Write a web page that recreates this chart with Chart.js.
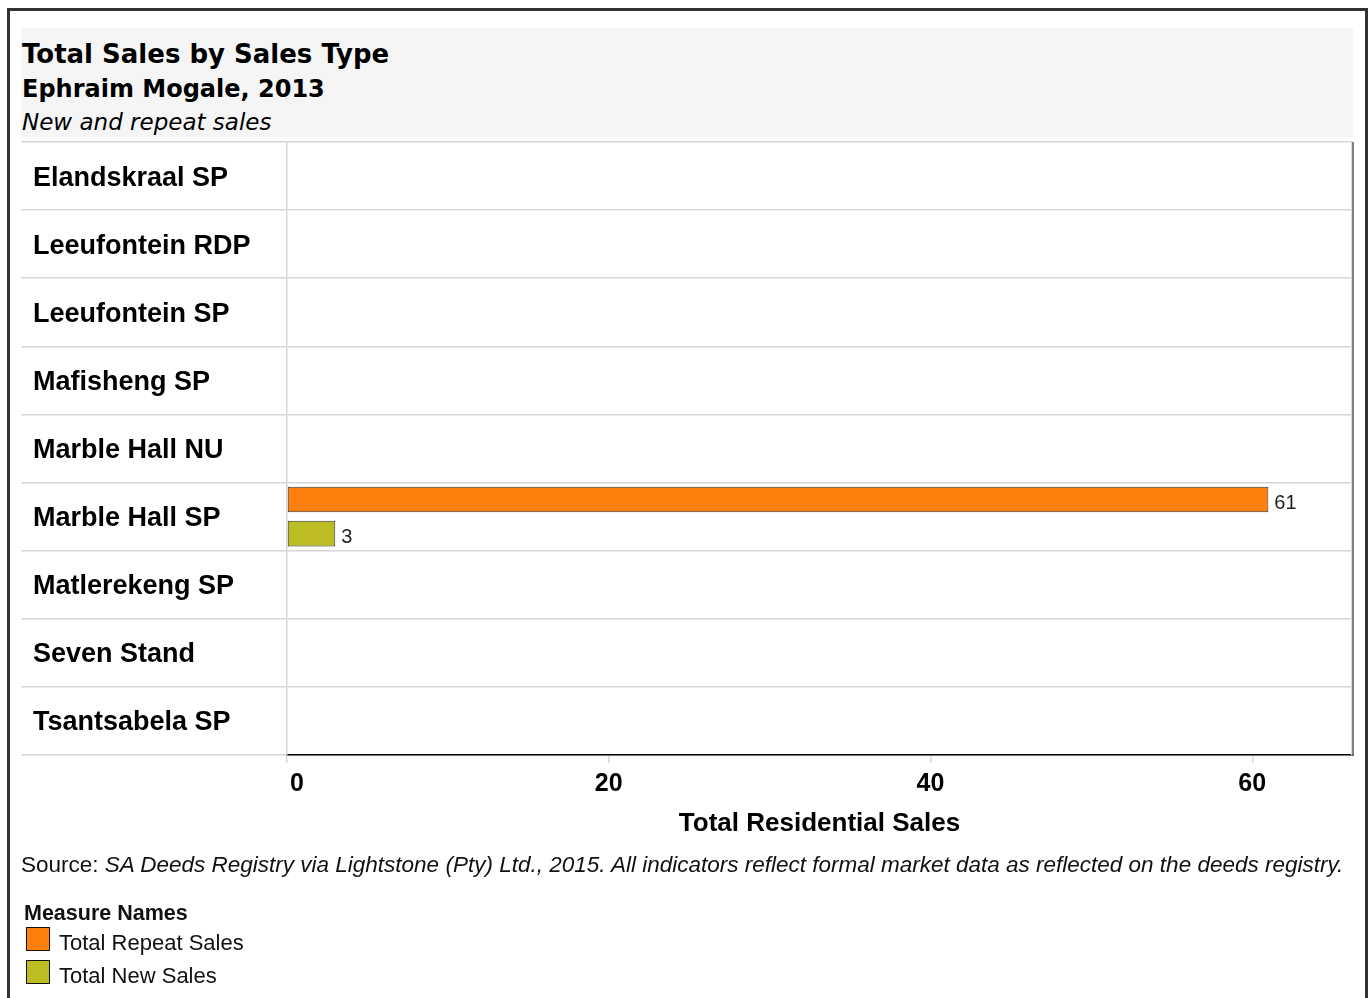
<!DOCTYPE html>
<html>
<head>
<meta charset="utf-8">
<title>Total Sales by Sales Type</title>
<script src="https://cdn.jsdelivr.net/npm/chart.js@4"></script>
<style>
body{margin:0;width:1370px;height:998px;overflow:hidden;background:#fff;position:relative;font-family:"Liberation Sans",Arial,sans-serif;color:#111}
#frame{position:absolute;left:7px;top:8px;width:1361px;height:1100px;border:3px solid #333;box-sizing:border-box}
#head{position:absolute;left:21px;top:28px;width:1332px;height:109px;background:#f5f5f5}
.h{position:absolute;left:22px;font-family:"DejaVu Sans",sans-serif;line-height:1;white-space:nowrap;color:#000}
#t1{top:41px;font-size:26px;font-weight:bold}
#t2{top:77px;font-size:24px;font-weight:bold}
#t3{top:111px;font-size:23px;font-style:italic}
#chart{position:absolute;left:0;top:0}
#source{position:absolute;left:21px;top:852px;font-size:22.5px;line-height:26px;white-space:nowrap;color:#111}
#legend{position:absolute;left:24px;top:901px}
#legend .lt{font-weight:bold;font-size:21.5px;line-height:24px;margin-bottom:-3px}
#legend .it{display:flex;align-items:center;height:33px;margin-left:2px}
#legend .sw{width:22px;height:22px;border:1px solid #111;margin-right:9px}
#legend .tx{font-size:22px;padding-top:8px}
</style>
</head>
<body>
<div id="frame"></div>
<div id="head"></div>
<div class="h" id="t1">Total Sales by Sales Type</div>
<div class="h" id="t2">Ephraim Mogale, 2013</div>
<div class="h" id="t3">New and repeat sales</div>
<canvas id="chart" width="1370" height="998"></canvas>
<div id="source">Source: <i>SA Deeds Registry via Lightstone (Pty) Ltd., 2015. All indicators reflect formal market data as reflected on the deeds registry.</i></div>
<div id="legend"><div class="lt">Measure Names</div></div>
<script>
// suburbs, top to bottom
const categories = ["Elandskraal SP","Leeufontein RDP","Leeufontein SP","Mafisheng SP","Marble Hall NU","Marble Hall SP","Matlerekeng SP","Seven Stand","Tsantsabela SP"];
const repeatSales = [null,null,null,null,null,61,null,null,null];
const newSales    = [null,null,null,null,null,3,null,null,null];
const seriesNames = ["Total Repeat Sales","Total New Sales"];
const seriesColors = ["#FF7F0E","#BCBD22"];
const xTicks = [0,20,40,60];
const xMax = 66.2;

const gridGrey = "#d6d6d6";

// legend
const legend = document.getElementById("legend");
seriesNames.forEach((n,i)=>{
  const it = document.createElement("div");
  it.className = "it";
  it.innerHTML = '<div class="sw" style="background:'+seriesColors[i]+'"></div><div class="tx">'+n+'</div>';
  legend.appendChild(it);
});

// numbers at the end of bars
const valueLabels = {
  id:"valueLabels",
  afterDatasetsDraw(chart){
    const ctx = chart.ctx;
    ctx.save();
    ctx.font = "20px 'Liberation Sans', Arial";
    ctx.fillStyle = "#222";
    ctx.textBaseline = "middle";
    ctx.textAlign = "left";
    chart.data.datasets.forEach((ds,i)=>{
      chart.getDatasetMeta(i).data.forEach((bar,j)=>{
        const v = ds.data[j];
        if(v==null) return;
        ctx.fillText(v, bar.x+6, bar.y+4);
      });
    });
    ctx.restore();
  }
};

// x tick labels, first one kept inside the plot like tableau does
const xLabels = {
  id:"xLabels",
  afterDraw(chart){
    const ctx = chart.ctx, sx = chart.scales.x, area = chart.chartArea;
    ctx.save();
    ctx.font = "bold 25px 'Liberation Sans', Arial";
    ctx.fillStyle = "#000";
    ctx.textBaseline = "middle";
    ctx.textAlign = "center";
    xTicks.forEach(v=>{
      const s = String(v);
      const w = ctx.measureText(s).width;
      let px = sx.getPixelForValue(v);
      px = Math.max(px, area.left + 3 + w/2);
      ctx.fillText(s, px, area.bottom + 29);
    });
    // plot outline on the right
    ctx.strokeStyle = gridGrey;
    ctx.lineWidth = 1;
    ctx.beginPath();
    ctx.moveTo(area.right - 0.5, area.top);
    ctx.lineTo(area.right - 0.5, area.bottom);
    ctx.stroke();
    ctx.strokeStyle = "#000";
    ctx.beginPath();
    ctx.moveTo(area.right + 1, area.top);
    ctx.lineTo(area.right + 1, area.bottom + 1);
    ctx.stroke();
    ctx.restore();
  }
};

new Chart(document.getElementById("chart"),{
  type:"bar",
  data:{
    labels:categories,
    datasets:[
      {label:seriesNames[0],data:repeatSales,backgroundColor:seriesColors[0],borderColor:"#333",borderWidth:1,borderSkipped:false},
      {label:seriesNames[1],data:newSales,backgroundColor:seriesColors[1],borderColor:"#333",borderWidth:1,borderSkipped:false}
    ]
  },
  options:{
    indexAxis:"y",
    responsive:false,
    animation:false,
    events:[],
    layout:{padding:{top:142,left:33,right:18,bottom:153}},
    datasets:{bar:{categoryPercentage:1.0,barPercentage:0.75}},
    plugins:{legend:{display:false},tooltip:{enabled:false}},
    scales:{
      x:{
        min:0,max:xMax,
        afterBuildTicks(scale){ scale.ticks = xTicks.map(v=>({value:v})); },
        afterFit(scale){ scale.height = 90; },
        ticks:{display:false},
        grid:{drawOnChartArea:false,drawTicks:true,tickLength:8,color:gridGrey,tickColor:gridGrey,lineWidth:1.5},
        border:{color:"#000",width:1.5},
        title:{display:true,text:"Total Residential Sales",color:"#000",
               font:{family:"'Liberation Sans', Arial",size:26,weight:"bold"},padding:{top:0,bottom:6}}
      },
      y:{
        afterFit(scale){ scale.width = 254; },
        ticks:{crossAlign:"far",padding:0,labelOffset:2,autoSkip:false,color:"#000",
               font:{family:"'Liberation Sans', Arial",size:27,weight:"bold"}},
        grid:{color:gridGrey,tickColor:gridGrey,lineWidth:1.5,tickLength:266},
        border:{color:gridGrey,width:1.5}
      }
    }
  },
  plugins:[valueLabels,xLabels]
});
</script>
</body>
</html>
